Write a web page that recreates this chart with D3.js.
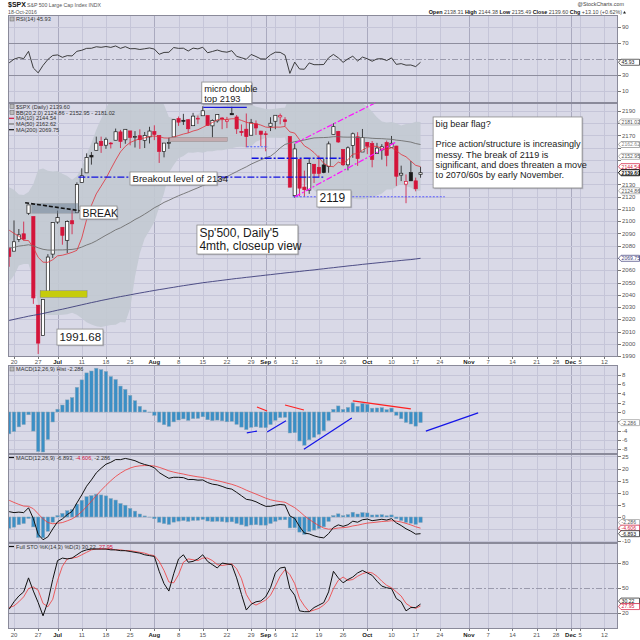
<!DOCTYPE html>
<html>
<head>
<meta charset="utf-8">
<title>$SPX daily</title>
<script src="https://cdnjs.cloudflare.com/ajax/libs/d3/7.8.5/d3.min.js"></script>
<style>
  html, body { margin: 0; padding: 0; background: #fff; }
  svg text { font-family: "Liberation Sans", Arial, sans-serif; }
</style>
</head>
<body>
<div id="chart"></div>
<script>
// $SPX daily candles, 17-Jun-2016 .. 18-Oct-2016 (one slot per trading day)
const prevClose = 2077.99;
const open = [
  2078.20, 2075.58, 2085.19, 2089.75, 2106.50, 2103.81, 2031.45, 2006.67, 2042.69, 2073.17,
  2099.34, 2095.05, 2084.43, 2100.42, 2106.97, 2131.72, 2139.50, 2153.81, 2157.88, 2165.13,
  2162.04, 2163.79, 2166.10, 2172.91, 2166.47, 2173.71, 2168.97, 2169.81, 2166.05, 2168.83,
  2173.15, 2169.94, 2156.81, 2163.51, 2168.79, 2183.76, 2182.24, 2182.81, 2177.97, 2183.74,
  2186.08, 2186.24, 2177.84, 2181.90, 2184.24, 2181.58, 2187.81, 2185.09, 2173.29, 2175.10,
  2170.19, 2179.45, 2173.56, 2171.33, 2177.49, 2181.61, 2185.17, 2182.76, 2169.08, 2120.86,
  2150.47, 2127.86, 2125.36, 2146.48, 2143.99, 2145.94, 2144.58, 2170.94, 2173.29, 2158.54,
  2146.04, 2161.85, 2168.90, 2156.51, 2164.33, 2163.37, 2155.15, 2158.22, 2164.19, 2160.39,
  2161.35, 2137.67, 2130.26, 2139.68, 2132.95, 2138.31];
const high = [
  2078.20, 2100.66, 2093.66, 2099.71, 2113.32, 2103.81, 2031.45, 2036.09, 2073.13, 2098.94,
  2108.71, 2095.05, 2100.72, 2109.08, 2131.71, 2143.16, 2155.40, 2156.45, 2169.05, 2169.05,
  2168.35, 2164.63, 2175.63, 2174.56, 2175.11, 2173.71, 2173.54, 2174.98, 2172.85, 2177.09,
  2178.29, 2170.20, 2163.79, 2168.19, 2182.87, 2185.44, 2187.66, 2183.41, 2188.45, 2186.28,
  2193.81, 2186.24, 2183.08, 2187.03, 2185.00, 2185.15, 2193.42, 2186.66, 2179.00, 2187.94,
  2183.48, 2182.27, 2173.79, 2173.56, 2184.87, 2186.57, 2187.87, 2184.94, 2169.08, 2163.30,
  2150.47, 2141.33, 2151.31, 2146.48, 2153.61, 2150.80, 2165.11, 2179.99, 2173.75, 2158.54,
  2161.13, 2172.40, 2172.67, 2175.30, 2164.41, 2165.46, 2163.95, 2162.93, 2165.86, 2169.60,
  2161.56, 2145.36, 2138.19, 2149.19, 2135.61, 2144.38];
const low = [
  2062.84, 2075.58, 2083.02, 2084.36, 2105.20, 2032.57, 1991.68, 2006.67, 2042.69, 2070.00,
  2097.90, 2080.86, 2074.02, 2089.39, 2106.97, 2131.72, 2139.50, 2146.21, 2157.88, 2155.79,
  2159.07, 2159.40, 2166.10, 2159.75, 2163.24, 2161.95, 2160.18, 2159.07, 2159.74, 2163.49,
  2166.21, 2147.58, 2152.14, 2159.07, 2168.79, 2177.85, 2178.61, 2172.00, 2177.97, 2179.42,
  2186.08, 2178.14, 2168.50, 2180.46, 2175.13, 2175.96, 2186.80, 2171.25, 2169.74, 2160.39,
  2170.19, 2170.41, 2161.35, 2157.09, 2173.59, 2175.10, 2179.07, 2177.49, 2127.81, 2119.12,
  2120.27, 2119.90, 2122.36, 2131.20, 2135.91, 2139.17, 2139.57, 2170.94, 2163.97, 2145.04,
  2141.55, 2151.79, 2145.20, 2156.51, 2154.77, 2144.01, 2155.15, 2150.28, 2144.85, 2160.39,
  2128.84, 2132.77, 2114.72, 2132.98, 2124.43, 2135.49];
const close = [
  2071.22, 2083.25, 2088.90, 2085.45, 2113.32, 2037.41, 2000.54, 2036.09, 2070.77, 2098.86,
  2102.95, 2088.55, 2099.73, 2097.90, 2129.90, 2137.16, 2152.14, 2152.43, 2163.75, 2161.74,
  2166.89, 2163.78, 2173.02, 2165.17, 2175.03, 2168.48, 2169.18, 2166.58, 2170.06, 2173.60,
  2170.84, 2157.03, 2163.79, 2164.25, 2182.87, 2180.89, 2181.74, 2175.49, 2185.79, 2184.05,
  2190.15, 2178.15, 2182.22, 2187.02, 2183.87, 2182.64, 2186.90, 2175.44, 2172.47, 2169.04,
  2180.38, 2176.12, 2170.95, 2170.86, 2179.98, 2186.48, 2186.16, 2181.30, 2127.81, 2159.04,
  2127.02, 2125.77, 2147.26, 2139.16, 2139.12, 2139.76, 2163.12, 2177.18, 2164.69, 2146.10,
  2159.93, 2171.37, 2151.13, 2168.27, 2161.20, 2150.49, 2159.73, 2160.77, 2153.74, 2163.66,
  2136.73, 2139.18, 2132.55, 2132.98, 2126.50, 2139.60];

// overlays
const ma10 = [
  2092.73, 2090.11, 2087.79, 2084.42, 2084.21, 2078.34, 2070.49, 2066.57, 2066.49, 2068.58,
  2071.75, 2072.28, 2073.37, 2074.61, 2076.27, 2086.25, 2101.41, 2113.04, 2122.34, 2128.63,
  2135.02, 2142.54, 2149.87, 2156.60, 2161.11, 2164.24, 2165.95, 2167.36, 2167.99, 2169.18,
  2169.57, 2168.90, 2167.98, 2167.88, 2168.67, 2169.91, 2171.17, 2172.06, 2173.63, 2174.67,
  2176.61, 2178.72, 2180.56, 2182.84, 2182.94, 2183.11, 2183.63, 2183.62, 2182.29, 2180.79,
  2179.81, 2179.61, 2178.48, 2176.87, 2176.48, 2176.86, 2176.79, 2177.37, 2172.91, 2171.91,
  2166.57, 2161.54, 2159.17, 2156.00, 2151.91, 2147.24, 2144.94, 2144.52, 2148.21, 2146.92,
  2150.21, 2154.77, 2155.16, 2158.07, 2160.28, 2161.35, 2161.01, 2159.37, 2158.27, 2160.03,
  2157.71, 2154.49, 2152.63, 2149.10, 2145.63, 2144.54];
const ma50 = [
  2078.0, 2078.7, 2079.7, 2080.2, 2080.8, 2079.9, 2078.3, 2077.1, 2076.5, 2076.4,
  2076.6, 2076.6, 2076.8, 2077.0, 2077.6, 2078.9, 2080.6, 2082.0, 2084.0, 2086.3,
  2088.6, 2090.7, 2093.0, 2094.6, 2096.8, 2098.9, 2101.4, 2103.4, 2105.8, 2108.3,
  2111.0, 2113.0, 2115.4, 2117.1, 2119.0, 2120.8, 2122.4, 2124.0, 2125.7, 2127.3,
  2129.1, 2130.5, 2131.9, 2133.3, 2134.6, 2136.4, 2138.5, 2140.5, 2142.5, 2144.4,
  2146.6, 2148.4, 2150.1, 2151.8, 2153.1, 2156.1, 2159.8, 2162.7, 2163.8, 2165.0,
  2165.5, 2166.3, 2167.2, 2168.0, 2168.2, 2168.3, 2168.5, 2169.0, 2169.0, 2168.7,
  2168.6, 2168.7, 2168.3, 2168.3, 2168.1, 2167.7, 2167.5, 2167.4, 2167.1, 2166.9,
  2166.2, 2165.8, 2165.2, 2164.6, 2163.4, 2162.62];
const ma200 = [
  2019.0, 2019.9, 2020.8, 2021.6, 2022.5, 2023.2, 2023.9, 2024.7, 2025.6, 2026.5,
  2027.4, 2028.2, 2029.1, 2030.0, 2030.9, 2031.8, 2032.7, 2033.6, 2034.4, 2035.3,
  2036.1, 2036.9, 2037.7, 2038.5, 2039.2, 2039.9, 2040.7, 2041.4, 2042.1, 2042.8,
  2043.5, 2044.2, 2044.8, 2045.5, 2046.1, 2046.8, 2047.4, 2048.0, 2048.6, 2049.2,
  2049.8, 2050.3, 2050.8, 2051.3, 2051.8, 2052.3, 2052.8, 2053.3, 2053.7, 2054.2,
  2054.6, 2055.1, 2055.5, 2056.0, 2056.4, 2056.9, 2057.3, 2057.8, 2058.2, 2058.6,
  2059.0, 2059.5, 2059.9, 2060.3, 2060.8, 2061.2, 2061.7, 2062.1, 2062.6, 2063.0,
  2063.5, 2063.9, 2064.3, 2064.8, 2065.2, 2065.6, 2066.0, 2066.4, 2066.8, 2067.2,
  2067.6, 2068.0, 2068.4, 2068.7, 2069.2, 2069.75];
const bbUp = [
  2127.8, 2125.7, 2121.8, 2121.4, 2123.8, 2130.3, 2142.0, 2143.0, 2141.3, 2140.6,
  2141.0, 2138.7, 2137.0, 2133.8, 2136.7, 2143.7, 2154.5, 2163.9, 2174.6, 2183.6,
  2192.3, 2199.6, 2207.6, 2213.5, 2219.9, 2221.5, 2212.7, 2206.5, 2204.4, 2205.3,
  2205.3, 2200.0, 2195.0, 2185.0, 2184.0, 2182.6, 2183.8, 2183.3, 2185.9, 2187.4,
  2190.3, 2190.6, 2191.4, 2192.9, 2193.7, 2194.3, 2195.3, 2195.1, 2195.1, 2195.2,
  2195.4, 2193.5, 2192.6, 2191.7, 2191.3, 2191.9, 2192.5, 2192.6, 2203.3, 2203.1,
  2206.8, 2209.9, 2209.0, 2207.7, 2206.2, 2204.5, 2201.8, 2202.0, 2201.3, 2200.4,
  2198.3, 2197.7, 2196.3, 2196.0, 2193.7, 2189.3, 2184.9, 2181.4, 2180.5, 2181.0,
  2179.9, 2178.2, 2179.3, 2179.7, 2181.1, 2181.02];
const bbLo = [
  2050.6, 2055.8, 2063.8, 2065.1, 2065.0, 2053.2, 2031.7, 2024.6, 2023.4, 2023.5,
  2023.5, 2023.7, 2024.1, 2025.3, 2023.7, 2020.9, 2017.5, 2015.7, 2014.2, 2013.6,
  2014.5, 2015.3, 2015.6, 2017.7, 2017.4, 2029.0, 2054.6, 2073.9, 2086.0, 2092.5,
  2099.3, 2111.5, 2122.8, 2139.5, 2145.8, 2151.5, 2153.3, 2156.1, 2155.8, 2156.5,
  2155.9, 2157.1, 2157.2, 2157.9, 2157.9, 2158.8, 2159.5, 2160.5, 2160.8, 2160.2,
  2161.0, 2164.8, 2166.5, 2168.1, 2168.1, 2168.1, 2167.9, 2168.4, 2151.9, 2149.6,
  2139.6, 2131.3, 2128.7, 2125.2, 2122.2, 2119.6, 2120.0, 2119.9, 2119.8, 2118.4,
  2118.5, 2118.6, 2118.0, 2118.0, 2118.5, 2119.3, 2121.0, 2122.6, 2125.9, 2125.9,
  2128.0, 2131.0, 2128.5, 2127.5, 2124.9, 2124.86];

// indicators
const rsi = [
  45.2, 49.8, 51.8, 50.5, 59.6, 38.7, 32.7, 42.0, 49.4, 54.4,
  55.1, 52.1, 54.2, 53.8, 59.6, 60.9, 63.3, 63.4, 65.3, 64.6,
  65.6, 64.5, 66.3, 63.3, 65.4, 62.8, 63.0, 61.9, 62.8, 63.8,
  62.4, 55.9, 58.2, 58.4, 64.3, 63.3, 63.5, 60.0, 63.6, 62.6,
  64.7, 57.8, 59.4, 61.2, 59.3, 58.5, 60.4, 53.3, 51.6, 49.6,
  55.7, 53.1, 50.1, 50.0, 55.2, 58.5, 58.3, 54.8, 32.0, 46.1,
  37.5, 37.2, 45.1, 42.9, 42.9, 43.1, 51.5, 55.7, 51.5, 45.8,
  50.2, 53.5, 47.5, 52.4, 50.3, 47.2, 50.1, 50.4, 48.1, 51.4,
  43.3, 44.2, 42.3, 42.5, 40.5, 45.93];
const macd = [
  2.2, 1.8, 2.0, 1.8, 3.8, -0.7, -7.2, -9.4, -8.2, -4.95,
  -2.0, -0.8, 1.0, 2.3, 5.8, 9.1, 12.7, 15.31, 18.21, 20.10,
  21.77, 22.58, 23.70, 23.67, 24.17, 23.76, 23.23, 22.34, 21.66, 21.17,
  20.32, 18.32, 17.09, 15.96, 16.39, 16.37, 16.24, 15.46, 15.49, 15.20,
  15.28, 14.22, 13.55, 13.25, 12.62, 11.88, 11.50, 10.16, 8.76, 7.29,
  6.96, 6.28, 5.27, 4.41, 4.41, 4.87, 5.16, 4.94, 0.44, -0.60,
  -3.96, -6.65, -6.97, -7.78, -8.34, -8.62, -6.88, -4.32, -3.26, -3.87,
  -3.20, -1.73, -2.17, -1.13, -0.87, -1.51, -1.25, -0.95, -1.27, -0.71,
  -2.42, -3.53, -4.88, -5.86, -7.08, -6.893];
const signal = [
  6.9, 6.0, 5.2, 4.5, 4.4, 3.4, 1.3, -0.8, -2.3, -2.8,
  -2.6, -2.3, -1.6, -0.8, 0.5, 2.2, 4.3, 6.5, 8.8, 11.0,
  13.06, 14.96, 16.71, 18.10, 19.31, 20.20, 20.81, 21.12, 21.23, 21.22,
  21.04, 20.50, 19.82, 19.05, 18.52, 18.09, 17.72, 17.27, 16.91, 16.57,
  16.31, 15.89, 15.42, 14.99, 14.52, 13.99, 13.49, 12.82, 12.01, 11.07,
  10.25, 9.46, 8.62, 7.78, 7.11, 6.66, 6.36, 6.08, 4.95, 3.84,
  2.28, 0.49, -1.00, -2.36, -3.56, -4.57, -5.03, -4.89, -4.56, -4.42,
  -4.18, -3.69, -3.39, -2.94, -2.53, -2.33, -2.11, -1.88, -1.76, -1.55,
  -1.72, -2.08, -2.64, -3.28, -4.04, -4.606];
const hist = [
  -4.7, -4.2, -3.2, -2.7, -0.6, -4.1, -8.5, -8.6, -5.9, -2.15,
  0.6, 1.5, 2.6, 3.1, 5.3, 6.9, 8.4, 8.81, 9.41, 9.10,
  8.71, 7.62, 6.99, 5.57, 4.86, 3.56, 2.42, 1.22, 0.43, -0.05,
  -0.72, -2.18, -2.73, -3.09, -2.13, -1.72, -1.48, -1.81, -1.42, -1.37,
  -1.03, -1.67, -1.87, -1.74, -1.90, -2.11, -1.99, -2.66, -3.25, -3.78,
  -3.29, -3.18, -3.35, -3.37, -2.70, -1.79, -1.20, -1.14, -4.51, -4.44,
  -6.24, -7.14, -5.97, -5.42, -4.78, -4.05, -1.85, 0.57, 1.30, 0.55,
  0.98, 1.96, 1.22, 1.81, 1.66, 0.82, 0.86, 0.93, 0.49, 0.84,
  -0.70, -1.45, -2.24, -2.58, -3.04, -2.286];
const stoK = [
  24, 33, 40, 45, 62, 46, 32, 16, 33, 60,
  83, 86, 85, 86, 90, 94, 96, 97, 97, 97,
  97, 96, 96, 95, 95, 94, 93, 92, 90, 89,
  88, 70, 55, 46, 67, 85, 90, 81, 82, 85,
  90, 82, 78, 74, 80, 79, 78, 62, 42, 23,
  30, 33, 34, 39, 50, 68, 74, 75, 49, 41,
  22, 21, 21, 26, 29, 32, 45, 70, 62, 56,
  60, 63, 68, 71, 68, 65, 58, 52, 50, 49,
  37, 33, 22, 26, 26, 30.22];
const stoD = [
  26, 28, 33, 39, 49, 51, 47, 31, 27, 36,
  59, 76, 85, 86, 87, 90, 93, 96, 97, 97,
  97, 97, 96, 96, 95, 95, 94, 93, 92, 90,
  89, 82, 71, 57, 56, 66, 81, 85, 84, 83,
  86, 86, 83, 78, 77, 78, 79, 73, 61, 42,
  32, 29, 32, 35, 41, 52, 64, 72, 66, 55,
  37, 28, 21, 23, 25, 29, 35, 49, 59, 63,
  59, 60, 64, 67, 69, 68, 64, 58, 53, 50,
  45, 40, 31, 27, 25, 27.95];

// date axis (slot index of each labelled day)
const tickSlot = [1, 6, 10, 15, 20, 25, 30, 35, 40, 45, 50, 53, 55, 59, 64, 69, 74, 79, 84, 89, 95, 99, 104, 109, 113, 116, 118, 123];
const tickLabel = ["20", "27", "Jul", "11", "18", "25", "Aug", "8", "15", "22", "29", "Sep", "6", "12", "19", "26", "Oct", "10", "17", "24", "Nov", "7", "14", "21", "28", "Dec", "5", "12"];
const monthLabels = ["Jul", "Aug", "Sep", "Oct", "Nov", "Dec"];

const rsiTicks = [90, 70, 50, 30, 10];
const priceTicks = [2190, 2180, 2170, 2160, 2150, 2140, 2130, 2120, 2110, 2100, 2090, 2080, 2070, 2060, 2050, 2040, 2030, 2020, 2010, 2000, 1990];
const histTicks = [8, 6, 4, 2, 0, -2, -4, -6, -8];
const macdTicks = [25, 20, 15, 10, 5, 0, -5, -10];
const stoTicks = [80, 50, 20];

// last values shown as tags on the right axis
const rsiTags = [45.93];
const priceTags = [2181.02, 2162.62, 2152.95, 2144.54, 2139.60, 2124.86, 2069.75];
const histTags = [-2.286];
const macdTags = [-2.286, -4.606, -6.893];
const stoTags = [30.22, 27.95];

// ---------------------------------------------------------------
const W = 640, H = 640, X0 = 8, X1 = 618;
const svg = d3.select("#chart").append("svg").attr("width", W).attr("height", H);
const slots = d3.range(close.length);
const x = d3.scaleLinear().domain([-0.24, 125.8]).range([X0, X1]);

const panel = {
  rsi: { top: 15, bot: 103 },
  px: { top: 103, bot: 357 },
  hist: { top: 365, bot: 454 },
  macd: { top: 454, bot: 543 },
  sto: { top: 543, bot: 629 }
};
const yRsi = d3.scaleLinear().domain([-5, 105]).range([103, 15]);
const yPx = d3.scaleLinear().domain([1989.2, 2196.5]).range([357, 103]);
const yHist = d3.scaleLinear().domain([-9.03, 10.1]).range([454, 365]);
const yMacd = d3.scaleLinear().domain([-10.74, 26.0]).range([543, 454]);
const ySto = d3.scaleLinear().domain([0, 104.3]).range([629, 543]);

const RED = "#d4143a", BLUE_BAR = "#3a8fc6";

// panel background, grid, right axis; returns a clipped group for the plot
function drawPanel(name, y, ticks, heavy, dashed, tags) {
  const p = panel[name];
  const g = svg.append("g");
  g.append("rect").attr("x", X0).attr("y", p.top).attr("width", X1 - X0).attr("height", p.bot - p.top)
    .attr("fill", "#d9d9e7");
  g.selectAll(null).data(tickSlot).enter().append("line")
    .attr("x1", d => Math.round(x(d)) + 0.5).attr("x2", d => Math.round(x(d)) + 0.5)
    .attr("y1", p.top).attr("y2", p.bot)
    .attr("stroke", (d, i) => monthLabels.includes(tickLabel[i]) ? "#aaaabf" : "#c5c5d8")
    .attr("stroke-width", 1);
  g.selectAll(null).data(ticks).enter().append("line")
    .attr("x1", X0).attr("x2", X1)
    .attr("y1", d => Math.round(y(d)) + 0.5).attr("y2", d => Math.round(y(d)) + 0.5)
    .attr("stroke", d => heavy.includes(d) ? "#8e8e9e" : (dashed.includes(d) ? "#9a9aac" : "#c5c5d8"))
    .attr("stroke-width", 1)
    .attr("stroke-dasharray", d => dashed.includes(d) ? "6,2,2,2" : null);
  g.selectAll(null).data(ticks).enter().append("line")
    .attr("x1", X1).attr("x2", X1 + 3)
    .attr("y1", d => Math.round(y(d)) + 0.5).attr("y2", d => Math.round(y(d)) + 0.5)
    .attr("stroke", "#777");
  // labels hidden where a value tag sits on top of them
  const free = ticks.filter(t => tags.every(v => Math.abs(y(t) - y(v)) >= 5));
  g.selectAll(null).data(free).enter().append("text")
    .attr("x", X1 + 4).attr("y", d => y(d) + 2.2)
    .attr("font-size", 6).attr("fill", "#555").text(d => d);

  svg.append("clipPath").attr("id", "clip-" + name).append("rect")
    .attr("x", X0).attr("y", p.top).attr("width", X1 - X0).attr("height", p.bot - p.top);
  return svg.append("g").attr("clip-path", `url(#clip-${name})`);
}

function frame(name) {
  const p = panel[name];
  svg.append("rect").attr("x", X0 + 0.5).attr("y", p.top + 0.5)
    .attr("width", X1 - X0 - 1).attr("height", p.bot - p.top - 1)
    .attr("fill", "none").attr("stroke", "#8a8a9a").attr("stroke-width", 1);
}

// value tag on the right axis
function tag(yv, txt, color, bold) {
  svg.append("path")
    .attr("d", `M${X1 + 0.5},${yv} L${X1 + 3},${yv - 3} L${X1 + 21.5},${yv - 3} L${X1 + 21.5},${yv + 3} L${X1 + 3},${yv + 3} Z`)
    .attr("fill", "#fff").attr("stroke", color).attr("stroke-width", bold ? 1 : 0.7);
  svg.append("text").attr("x", X1 + 3.6).attr("y", yv + 1.9)
    .attr("font-size", 5.1).attr("fill", color === "#999" ? "#555" : color)
    .attr("font-weight", bold ? "bold" : null).text(txt);
}

// small legend line inside a panel
function legend(yb, icon, parts) {
  if (icon === "box") {
    svg.append("rect").attr("x", 10).attr("y", yb - 4).attr("width", 4).attr("height", 4)
      .attr("fill", "#bbb").attr("stroke", "#666").attr("stroke-width", 0.5);
  } else {
    svg.append("line").attr("x1", 9).attr("x2", 14).attr("y1", yb - 2).attr("y2", yb - 2)
      .attr("stroke", icon).attr("stroke-width", 1.2);
  }
  const t = svg.append("text").attr("x", 16).attr("y", yb).attr("font-size", 5.6).attr("fill", "#333");
  parts.forEach(([s, c]) => t.append("tspan").attr("fill", c || "#333").text(s));
}

// ---------------- header ----------------
svg.append("text").attr("x", 8).attr("y", 7).attr("font-size", 7).attr("font-weight", "bold")
  .attr("fill", "#111").text("$SPX");
svg.append("text").attr("x", 27).attr("y", 7).attr("font-size", 5.2).attr("fill", "#555")
  .text("S&P 500 Large Cap Index  INDX");
svg.append("text").attr("x", 8).attr("y", 13.5).attr("font-size", 5.2).attr("fill", "#555").text("18-Oct-2016");
svg.append("text").attr("x", 624).attr("y", 6).attr("text-anchor", "end").attr("font-size", 5.4)
  .attr("fill", "#444").text("@StockCharts.com");
{
  const t = svg.append("text").attr("x", 622).attr("y", 13.5).attr("text-anchor", "end")
    .attr("font-size", 5.4).attr("fill", "#444");
  [["Open", true], [" 2138.31  ", false], ["High", true], [" 2144.38  ", false], ["Low", true],
   [" 2135.49  ", false], ["Close", true], [" 2139.60  ", false], ["Chg", true], [" +13.10 (+0.62%)", false]]
    .forEach(([s, b]) => t.append("tspan").attr("font-weight", b ? "bold" : null)
      .attr("fill", b ? "#111" : "#444").text(s));
  svg.append("path").attr("d", "M623,13.5 L626,13.5 L624.5,11 Z").attr("fill", "#222");
}

// ---------------- RSI ----------------
const gRsi = drawPanel("rsi", yRsi, rsiTicks, [70, 30], [50], rsiTags);
gRsi.append("path").datum(slots).attr("fill", "none").attr("stroke", "#2a2a2a").attr("stroke-width", 0.9)
  .attr("d", d3.line().x(k => x(k)).y(k => yRsi(rsi[k])));
frame("rsi");
tag(yRsi(rsiTags[0]), "45.93", "#222", false);
legend(21, "box", [["RSI(14) 45.93"]]);

// ---------------- price ----------------
const gPx = drawPanel("px", yPx, priceTicks, [], [], priceTags);
gPx.append("path").datum(slots).attr("fill", "#c2c9d1").attr("opacity", 0.9)
  .attr("d", d3.area().x(k => x(k)).y0(k => yPx(bbLo[k])).y1(k => yPx(bbUp[k])));

const candleColor = k => close[k] < (k ? close[k - 1] : prevClose) ? RED : "#1b1b1b";
const cdl = gPx.selectAll(".cdl").data(slots).enter().append("g");
cdl.append("line")
  .attr("x1", k => x(k)).attr("x2", k => x(k))
  .attr("y1", k => yPx(high[k])).attr("y2", k => yPx(low[k]))
  .attr("stroke", candleColor).attr("stroke-width", 0.8);
cdl.append("rect")
  .attr("x", k => x(k) - 1.6).attr("width", 3.2)
  .attr("y", k => yPx(Math.max(open[k], close[k])))
  .attr("height", k => Math.max(0.8, Math.abs(yPx(open[k]) - yPx(close[k]))))
  .attr("fill", k => close[k] >= open[k] ? "#fff" : candleColor(k))
  .attr("stroke", candleColor).attr("stroke-width", 0.7);

const pxLine = arr => d3.line().x(k => x(k)).y(k => yPx(arr[k]));
gPx.append("path").datum(slots).attr("fill", "none").attr("stroke", "#6f6f6f").attr("stroke-width", 0.9).attr("d", pxLine(ma50));
gPx.append("path").datum(slots).attr("fill", "none").attr("stroke", "#3d3d7a").attr("stroke-width", 0.9).attr("d", pxLine(ma200));
gPx.append("path").datum(slots).attr("fill", "none").attr("stroke", "#e0303a").attr("stroke-width", 0.8).attr("d", pxLine(ma10));

// chart annotations (slot, price)
const gAnn = svg.append("g");
const annRects = [
  { k1: 4.65, k2: 14.3, v1: 2106.5, v2: 2114.6, fill: "#6f8296", op: 0.55 },
  { k1: 33.2, k2: 45.1, v1: 2164.9, v2: 2168.5, fill: "#c4a5a8", op: 0.8 },
  { k1: 6.4, k2: 16.1, v1: 2037.9, v2: 2043.3, fill: "#c6cc0c", op: 1 }
];
annRects.forEach(r => gAnn.append("rect")
  .attr("x", x(r.k1)).attr("width", x(r.k2) - x(r.k1))
  .attr("y", yPx(r.v2)).attr("height", yPx(r.v1) - yPx(r.v2))
  .attr("fill", r.fill).attr("opacity", r.op).attr("stroke", "#777").attr("stroke-width", 0.4));

const annLines = [
  { k1: 40.1, v1: 2193, k2: 49.1, v2: 2193, c: "#1a1ad8", w: 1.2, dash: null },
  { k1: 49.1, v1: 2160.8, k2: 53.5, v2: 2160.8, c: "#4a5cff", w: 1.2, dash: "2,1.5" },
  { k1: 50.1, v1: 2151.4, k2: 69.0, v2: 2151.4, c: "#1010e0", w: 1.3, dash: "7,2,2,2" },
  { k1: 14.3, v1: 2136.0, k2: 64.9, v2: 2136.0, c: "#1010e0", w: 1.3, dash: "7,2,2,2" },
  { k1: 58.6, v1: 2120.0, k2: 90.0, v2: 2120.0, c: "#5a5aff", w: 1.2, dash: "2,1.5" },
  { k1: 3.3, v1: 2115.1, k2: 14.6, v2: 2108.6, c: "#111", w: 1.6, dash: "4,2" },
  { k1: 59.05, v1: 2163.6, k2: 75.9, v2: 2197.1, c: "#ff10ff", w: 1.2, dash: "6,2,2,2" },
  { k1: 59.05, v1: 2120.0, k2: 80.07, v2: 2164.9, c: "#ff10ff", w: 1.2, dash: "6,2,2,2" }
];
annLines.forEach(l => gAnn.append("line")
  .attr("x1", x(l.k1)).attr("y1", yPx(l.v1)).attr("x2", x(l.k2)).attr("y2", yPx(l.v2))
  .attr("stroke", l.c).attr("stroke-width", l.w).attr("stroke-dasharray", l.dash));

// text boxes (slot, price of top-left corner)
const notes = [
  { k: 39.8, v: 2213.6, w: 50, h: 22, fs: 9.3, lh: 10, lines: ["micro double", "top 2193"] },
  { k: 14.64, v: 2112.4, w: 37, h: 13, fs: 10.5, lh: 11, lines: ["BREAK"] },
  { k: 24.97, v: 2140.2, w: 87, h: 13, fs: 9.6, lh: 10, lines: ["Breakout level of 2134"] },
  { k: 63.6, v: 2125.5, w: 34, h: 17, fs: 12, lh: 12, lines: ["2119"] },
  { k: 87.6, v: 2185.1, w: 149, h: 71, fs: 9.1, lh: 10.3,
    lines: ["big bear flag?", "", "Price action/structure is increasingly", "messy. The break of 2119 is",
            "significant, and does threaten a move", "to 2070/60s by early November."] },
  { k: 38.8, v: 2096.9, w: 101, h: 29, fs: 12, lh: 13, lines: ["Sp'500, Daily'5", "4mth, closeup view"] },
  { k: 9.88, v: 2012.0, w: 46, h: 16, fs: 11.5, lh: 12, lines: ["1991.68"] }
];
notes.forEach(n => {
  const bx = x(n.k), by = yPx(n.v);
  gAnn.append("rect").attr("x", bx + 1.2).attr("y", by + 1.2).attr("width", n.w).attr("height", n.h)
    .attr("fill", "#8e8e9c").attr("opacity", 0.5);
  gAnn.append("rect").attr("x", bx).attr("y", by).attr("width", n.w).attr("height", n.h)
    .attr("fill", "#fff").attr("stroke", "#8a8a8a").attr("stroke-width", 0.8);
  n.lines.forEach((s, j) => gAnn.append("text")
    .attr("x", bx + 2.5).attr("y", by + n.fs * 0.95 + 1 + j * n.lh)
    .attr("font-size", n.fs).attr("fill", "#1a1a1a").text(s));
});
frame("px");

legend(108.5, "box", [["$SPX (Daily) 2139.60"]]);
legend(114.5, "box", [["BB(20,2.0) 2124.86 - 2152.95 - 2181.02"]]);
legend(120.3, RED, [["MA(10) 2144.54"]]);
legend(126, "#777", [["MA(50) 2162.62"]]);
legend(131.7, "#111", [["MA(200) 2069.75"]]);

const priceTagColor = ["#999", "#888", "#999", RED, "#111", "#999", "#3d3d7a"];
priceTags.forEach((v, i) => tag(yPx(v), v.toFixed(2), priceTagColor[i], v === 2139.60));

// ---------------- date axes ----------------
function dateAxis(yText, yTick) {
  svg.selectAll(null).data(tickSlot).enter().append("line")
    .attr("x1", d => Math.round(x(d)) + 0.5).attr("x2", d => Math.round(x(d)) + 0.5)
    .attr("y1", yTick).attr("y2", yTick + 2).attr("stroke", "#777");
  svg.selectAll(null).data(tickSlot).enter().append("text")
    .attr("x", d => x(d)).attr("y", yText).attr("text-anchor", "middle")
    .attr("font-size", 6).attr("fill", (d, i) => monthLabels.includes(tickLabel[i]) ? "#222" : "#555")
    .attr("font-weight", (d, i) => monthLabels.includes(tickLabel[i]) ? "bold" : null)
    .text((d, i) => tickLabel[i]);
}
dateAxis(363.5, 357);
dateAxis(637, 629);

// ---------------- MACD histogram ----------------
const gHist = drawPanel("hist", yHist, histTicks, [], [], histTags);
gHist.selectAll(null).data(slots).enter().append("rect")
  .attr("x", k => x(k) - 1.7).attr("width", 3.4)
  .attr("y", k => yHist(Math.max(0, hist[k])))
  .attr("height", k => Math.abs(yHist(hist[k]) - yHist(0)))
  .attr("fill", BLUE_BAR).attr("stroke", "#8da6b8").attr("stroke-width", 0.5);
const histNotes = [
  { k1: 51.2, v1: 1.08, k2: 53.3, v2: 0.22, c: "#ff2020" },
  { k1: 57.0, v1: 1.5, k2: 60.9, v2: 0.43, c: "#ff2020" },
  { k1: 71.0, v1: 2.4, k2: 83.0, v2: 0.65, c: "#ff2020" },
  { k1: 49.1, v1: -4.5, k2: 51.2, v2: -4.1, c: "#1414e8" },
  { k1: 53.3, v1: -4.3, k2: 57.2, v2: -1.9, c: "#1414e8" },
  { k1: 60.9, v1: -8.0, k2: 70.8, v2: -1.3, c: "#1414e8" },
  { k1: 86.1, v1: -4.1, k2: 96.9, v2: -0.2, c: "#1414e8" }
];
histNotes.forEach(l => gHist.append("line")
  .attr("x1", x(l.k1)).attr("y1", yHist(l.v1)).attr("x2", x(l.k2)).attr("y2", yHist(l.v2))
  .attr("stroke", l.c).attr("stroke-width", 1.2));
frame("hist");
legend(371, "box", [["MACD(12,26,9) Hist -2.286"]]);
tag(yHist(histTags[0]), "-2.286", "#999", false);

// ---------------- MACD ----------------
const gMacd = drawPanel("macd", yMacd, macdTicks, [], [], macdTags);
gMacd.selectAll(null).data(slots).enter().append("rect")
  .attr("x", k => x(k) - 1.7).attr("width", 3.4)
  .attr("y", k => yMacd(Math.max(0, hist[k])))
  .attr("height", k => Math.abs(yMacd(hist[k]) - yMacd(0)))
  .attr("fill", BLUE_BAR).attr("stroke", "#8da6b8").attr("stroke-width", 0.5);
gMacd.append("path").datum(slots).attr("fill", "none").attr("stroke", "#f03a3a").attr("stroke-width", 0.8)
  .attr("d", d3.line().x(k => x(k)).y(k => yMacd(signal[k])));
gMacd.append("path").datum(slots).attr("fill", "none").attr("stroke", "#111").attr("stroke-width", 1)
  .attr("d", d3.line().x(k => x(k)).y(k => yMacd(macd[k])));
frame("macd");
legend(459.5, "#111", [["MACD(12,26,9) -6.893, "], ["-4.606", RED], [", -2.286"]]);
const macdTagColor = ["#999", RED, "#111"];
macdTags.forEach((v, i) => tag(yMacd(v), v.toFixed(3), macdTagColor[i], false));

// ---------------- Full stochastics ----------------
const gSto = drawPanel("sto", ySto, stoTicks, [80, 20], [50], stoTags);
gSto.append("path").datum(slots).attr("fill", "none").attr("stroke", "#f03a3a").attr("stroke-width", 0.8)
  .attr("d", d3.line().x(k => x(k)).y(k => ySto(stoD[k])));
gSto.append("path").datum(slots).attr("fill", "none").attr("stroke", "#111").attr("stroke-width", 1)
  .attr("d", d3.line().x(k => x(k)).y(k => ySto(stoK[k])));
frame("sto");
legend(548.5, "#111", [["Full STO %K(14,3) %D(3) 30.22, "], ["27.95", RED]]);
// the two tags nearly coincide; spread them a little so both stay legible
tag(ySto(stoTags[0]) - 3, "30.22", "#111", false);
tag(ySto(stoTags[1]) + 0.6, "27.95", RED, false);
</script>
</body>
</html>
